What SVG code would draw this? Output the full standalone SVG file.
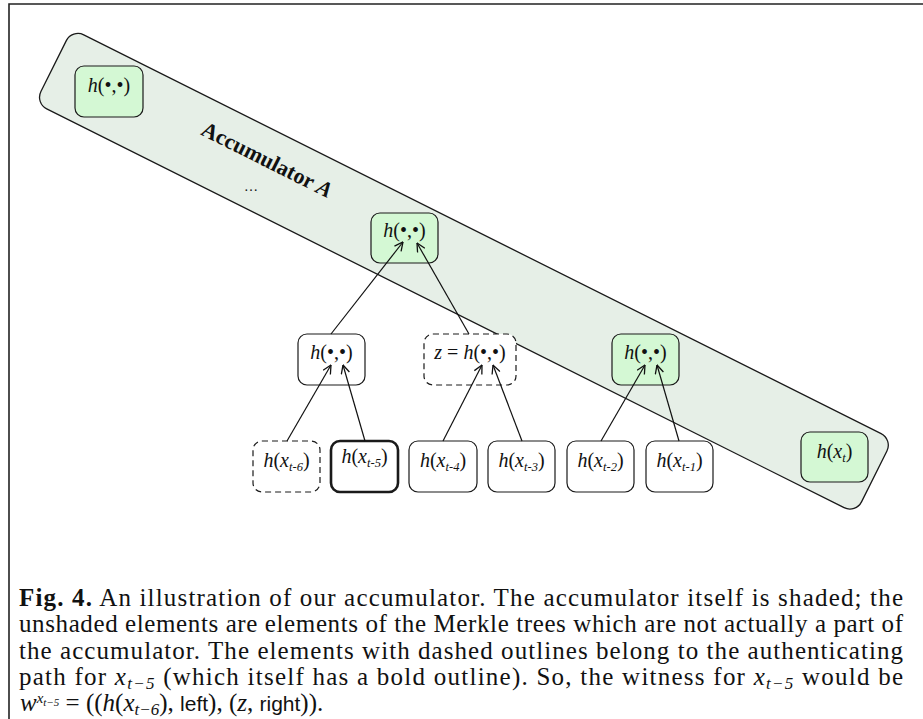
<svg xmlns="http://www.w3.org/2000/svg" width="923" height="719" viewBox="0 0 923 719">
<defs>
<style>
.box{fill:#fff;stroke:#1a1a1a;stroke-width:1.2}
.green{fill:#d4f8d4}
.dash{stroke-dasharray:6 4}
.bold{stroke-width:2.6}
.nt{font-family:"Liberation Serif","Times New Roman",serif;font-size:20px;text-anchor:middle;fill:#111}
.lt{font-family:"Liberation Serif","Times New Roman",serif;font-size:20px;text-anchor:middle;fill:#111}
.it{font-style:italic}
.sub{font-size:12.5px;font-style:italic}
.conn{stroke:#111;stroke-width:1.2;fill:none;marker-end:url(#ah)}
.cap{font-family:"Liberation Serif","Times New Roman",serif;font-size:25px;fill:#111}
.sf{font-family:"Liberation Sans",sans-serif;font-size:21px}
.cs{font-size:17px;font-style:italic}
</style>
<marker id="ah" viewBox="0 0 10 10" refX="9.5" refY="5" markerWidth="10" markerHeight="10" orient="auto" markerUnits="userSpaceOnUse">
<path d="M1,0.8 L9.5,5 L1,9.2" fill="none" stroke="#111" stroke-width="1.3"/>
</marker>
</defs>
<rect x="0" y="0" width="923" height="719" fill="#fff"/>
<path d="M9,719 V4 H923" fill="none" stroke="#222" stroke-width="1.6"/>

<g id="accumulator">
<rect x="77.5" y="-6.3" width="917.5" height="82.8" rx="13" transform="rotate(26.57)" fill="#e6efe7" stroke="#1a1a1a" stroke-width="1.3"/>
<text transform="translate(267,160) rotate(26.57)" y="7" text-anchor="middle" font-family="Liberation Serif, serif" font-size="22" font-weight="bold" fill="#111">Accumulator <tspan font-style="italic">A</tspan></text>
<text x="251" y="191" text-anchor="middle" font-family="Liberation Serif, serif" font-size="14" fill="#111">…</text>
</g>

<g id="acc-top">
<rect class="box green" x="75" y="66" width="68" height="51" rx="9"/>
<text class="nt" x="109" y="92"><tspan class="it">h</tspan>(•,•)</text>
</g>
<g id="acc-mid">
<rect class="box green" x="371" y="213" width="67" height="50" rx="9"/>
<text class="nt" x="404.5" y="237"><tspan class="it">h</tspan>(•,•)</text>
</g>
<g id="node-l2a">
<rect class="box" x="298" y="334" width="67" height="51" rx="9"/>
<text class="nt" x="331.5" y="359"><tspan class="it">h</tspan>(•,•)</text>
</g>
<g id="node-z">
<rect class="box dash" x="424" y="334" width="92" height="51" rx="9"/>
<text class="nt" x="470" y="359"><tspan class="it">z</tspan> = <tspan class="it">h</tspan>(•,•)</text>
</g>
<g id="acc-l2c">
<rect class="box green" x="612" y="334" width="67" height="51" rx="9"/>
<text class="nt" x="645.5" y="359"><tspan class="it">h</tspan>(•,•)</text>
</g>

<g id="leaf-t6">
<rect class="box dash" x="253" y="441" width="67" height="51" rx="9"/>
<text class="lt" x="286.5" y="467"><tspan class="it">h</tspan>(<tspan class="it">x</tspan><tspan class="sub" dy="4">t-6</tspan><tspan dy="-4">)</tspan></text>
</g>
<g id="leaf-t5">
<rect class="box bold" x="331" y="441" width="67" height="51" rx="9"/>
<text class="lt" x="364.5" y="463"><tspan class="it">h</tspan>(<tspan class="it">x</tspan><tspan class="sub" dy="4">t-5</tspan><tspan dy="-4">)</tspan></text>
</g>
<g id="leaf-t4">
<rect class="box" x="409" y="441" width="68" height="51" rx="9"/>
<text class="lt" x="443" y="467"><tspan class="it">h</tspan>(<tspan class="it">x</tspan><tspan class="sub" dy="4">t-4</tspan><tspan dy="-4">)</tspan></text>
</g>
<g id="leaf-t3">
<rect class="box" x="488" y="441" width="67" height="51" rx="9"/>
<text class="lt" x="521.5" y="467"><tspan class="it">h</tspan>(<tspan class="it">x</tspan><tspan class="sub" dy="4">t-3</tspan><tspan dy="-4">)</tspan></text>
</g>
<g id="leaf-t2">
<rect class="box" x="567" y="441" width="67" height="51" rx="9"/>
<text class="lt" x="600.5" y="467"><tspan class="it">h</tspan>(<tspan class="it">x</tspan><tspan class="sub" dy="4">t-2</tspan><tspan dy="-4">)</tspan></text>
</g>
<g id="leaf-t1">
<rect class="box" x="646" y="441" width="67" height="51" rx="9"/>
<text class="lt" x="679.5" y="467"><tspan class="it">h</tspan>(<tspan class="it">x</tspan><tspan class="sub" dy="4">t-1</tspan><tspan dy="-4">)</tspan></text>
</g>
<g id="acc-xt">
<rect class="box green" x="801" y="432" width="67" height="50" rx="9"/>
<text class="lt" x="834.5" y="458"><tspan class="it">h</tspan>(<tspan class="it">x</tspan><tspan class="sub" dy="4">t</tspan><tspan dy="-4">)</tspan></text>
</g>

<g id="connectors">
<line class="conn" x1="331" y1="334" x2="403" y2="242"/>
<line class="conn" x1="469" y1="334" x2="417" y2="243"/>
<line class="conn" x1="287" y1="441" x2="331" y2="365"/>
<line class="conn" x1="365" y1="441" x2="343" y2="365"/>
<line class="conn" x1="443" y1="441" x2="482" y2="365"/>
<line class="conn" x1="522" y1="441" x2="493" y2="365"/>
<line class="conn" x1="601" y1="441" x2="645" y2="365"/>
<line class="conn" x1="679" y1="441" x2="657" y2="365"/>
</g>

<g id="caption">
<text class="cap" x="19" y="606" textLength="884" lengthAdjust="spacing"><tspan font-weight="bold">Fig. 4.</tspan> An illustration of our accumulator. The accumulator itself is shaded; the</text>
<text class="cap" x="19" y="632" textLength="884" lengthAdjust="spacing">unshaded elements are elements of the Merkle trees which are not actually a part of</text>
<text class="cap" x="19" y="658.5" textLength="884" lengthAdjust="spacing">the accumulator. The elements with dashed outlines belong to the authenticating</text>
<text class="cap" x="19" y="685" textLength="884" lengthAdjust="spacing">path for <tspan font-style="italic">x</tspan><tspan class="cs" dy="4">t−5</tspan><tspan dy="-4"> (which itself has a bold outline). So, the witness for </tspan><tspan font-style="italic">x</tspan><tspan class="cs" dy="4">t−5</tspan><tspan dy="-4"> would be</tspan></text>
<text class="cap" x="20" y="711"><tspan font-style="italic">w</tspan><tspan font-size="15" font-style="italic" dy="-8">x</tspan><tspan font-size="11" font-style="italic" dy="3">t−5</tspan><tspan dy="5"> = ((</tspan><tspan font-style="italic">h</tspan>(<tspan font-style="italic">x</tspan><tspan class="cs" dy="4">t−6</tspan><tspan dy="-4">), </tspan><tspan class="sf">left</tspan>), (<tspan font-style="italic">z</tspan>, <tspan class="sf">right</tspan>)).</text>
</g>
</svg>
